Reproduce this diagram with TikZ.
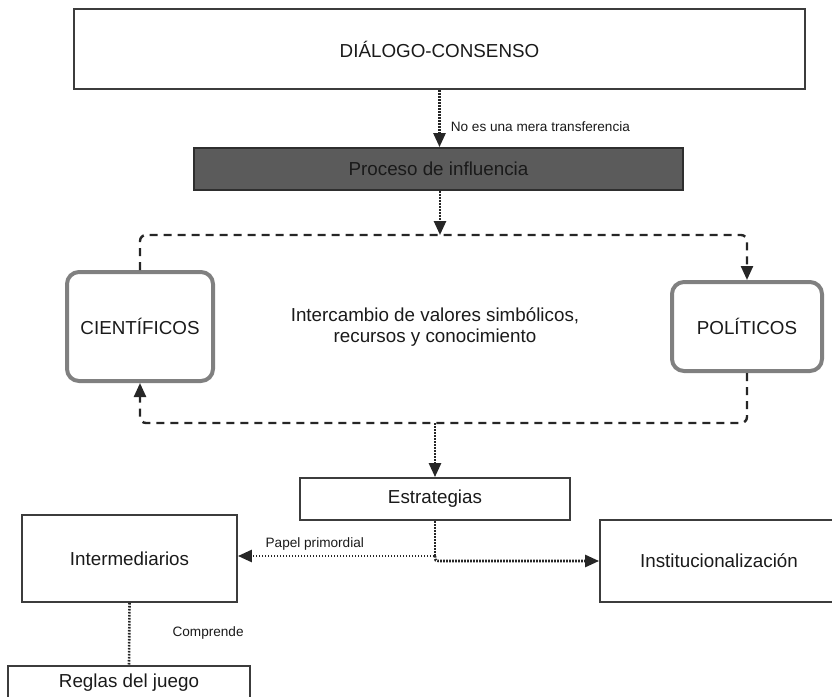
\documentclass[tikz,border=0pt]{standalone}
\usepackage{fontspec}
\setmainfont{Liberation Sans}
\usetikzlibrary{arrows.meta, calc}

\definecolor{textgray}{HTML}{1A1A1A}
\definecolor{boxline}{HTML}{3C3C3C}
\definecolor{procgray}{HTML}{5B5B5B}
\definecolor{procline}{HTML}{2E2E2E}
\definecolor{roundgray}{HTML}{808080}
\definecolor{linegray}{HTML}{262626}

\begin{document}
\begin{tikzpicture}[x = 0.5pt, y = -0.5pt,
  caja/.style = {draw = boxline, line width = 0.9pt, text = textgray, inner sep = 0pt, font = \fontsize{9.4}{10.5}\selectfont},
  actor/.style = {caja, draw = roundgray, line width = 2pt, rounded corners = 6pt},
  nota/.style = {text = textgray, inner sep = 0pt, font = \fontsize{6.8}{8}\selectfont},
  punteado/.style = {draw = linegray, line width = 1.3pt, dash pattern = on 0.8pt off 0.7pt},
  rayado/.style = {draw = linegray, line width = 1.2pt, dash pattern = on 4pt off 3pt, rounded corners = 3pt},
  flecha/.style = {-{Triangle[length = 7pt, width = 6pt]}}]
\useasboundingbox (0,0) rectangle (832,697);

\node[caja, line width = 1.2pt, minimum width = 365.5pt, minimum height = 40pt] (dialogo) at (439.5,49) {DIÁLOGO-CONSENSO};
\node[caja, fill = procgray, draw = procline, minimum width = 244.5pt, minimum height = 21pt] (proceso) at (438.5,169) {Proceso de influencia};
\node[actor, minimum width = 73pt, minimum height = 54.5pt] (cientificos) at (140,326.5) {CIENTÍFICOS};
\node[actor, minimum width = 75pt, minimum height = 44.5pt] (politicos) at (747,326.5) {POLÍTICOS};
\node[text = textgray, align = center, font = \fontsize{9.4}{10.5}\selectfont] (intercambio) at (435,327) {Intercambio de valores simbólicos,\\recursos y conocimiento};
\node[caja, minimum width = 135pt, minimum height = 21pt] (estrategias) at (435,499) {Estrategias};
\node[caja, minimum width = 107.5pt, minimum height = 43.5pt] (intermediarios) at (129.5,558.5) {Intermediarios};
\node[caja, minimum width = 119pt, minimum height = 41pt] (institucion) at (719,561) {Institucionalización};
\node[caja, minimum width = 121pt, minimum height = 17pt] (reglas) at (129,683) {Reglas del juego};

\coordinate (lazoarriba) at (440,235);
\coordinate (lazoabajo) at (435,423);
\coordinate (reparto) at (435,556);
\coordinate (salto) at (442,561);

\draw[punteado, flecha] (dialogo.south) -- (dialogo.south |- proceso.north)
  node[nota, pos = 0.64, anchor = west, xshift = 5pt] {No es una mera transferencia};
\draw[punteado, flecha] (lazoarriba |- proceso.south) -- (lazoarriba);

% intercambio
\draw[rayado, flecha] (cientificos.north) -- (cientificos.north |- lazoarriba) -- (politicos.north |- lazoarriba) -- (politicos.north);
\draw[rayado, flecha] (politicos.south) -- (politicos.south |- lazoabajo) -- (cientificos.south |- lazoabajo) -- (cientificos.south);

\draw[punteado, flecha] (lazoabajo) -- (estrategias.north);
\draw[punteado, flecha] (estrategias.south) -- (reparto) -- (reparto -| intermediarios.east)
  node[nota, pos = 0.61, anchor = south, yshift = 2pt] {Papel primordial};
\draw[punteado, flecha] (reparto) .. controls (435,561) .. (salto) -- (institucion.west);
\draw[punteado] (intermediarios.south) -- (reglas.north)
  node[nota, pos = 0.48, anchor = west, xshift = 21pt] {Comprende};
\end{tikzpicture}
\end{document}
